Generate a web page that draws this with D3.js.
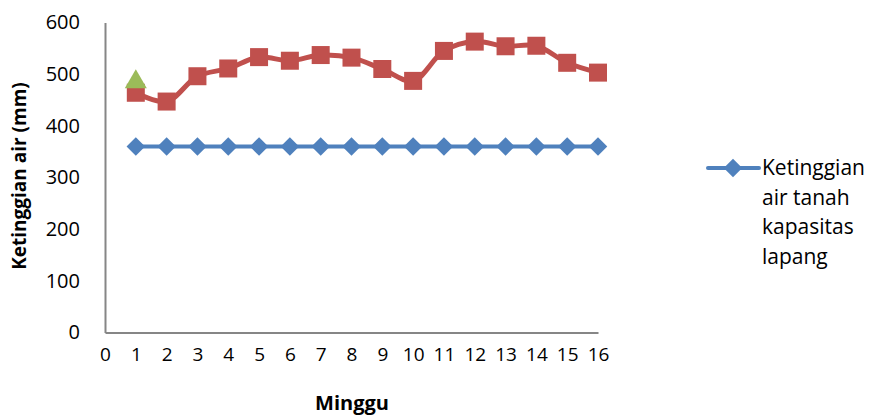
<!DOCTYPE html>
<html>
<head>
<meta charset="utf-8">
<script src="https://cdn.jsdelivr.net/npm/d3@7"></script>
<style>
  html, body { margin: 0; padding: 0; background: #fff; }
  svg { display: block; }
  text { font-family: "Open Sans", "Noto Sans", sans-serif; fill: #000; }
</style>
</head>
<body>
<svg id="chart" width="871" height="416"></svg>
<script>
// Weekly water levels (mm)
const weeks = [1, 2, 3, 4, 5, 6, 7, 8, 9, 10, 11, 12, 13, 14, 15, 16];
const kapasitasLapang = [360, 360, 360, 360, 360, 360, 360, 360, 360, 360, 360, 360, 360, 360, 360, 360];
const ketinggianAir = [464, 447, 496, 511, 533, 526, 537, 532, 510, 487, 545, 563, 554, 555, 522, 503];
const titikAwal = [{ week: 1, value: 485 }];
const xTicks = d3.range(0, 17);
const yTicks = [0, 100, 200, 300, 400, 500, 600];

const svg = d3.select("#chart");
const plot = { left: 105, right: 598, top: 22.5, bottom: 332.5 };

const x = d3.scaleLinear().domain([0, 16]).range([plot.left, plot.right]);
const y = d3.scaleLinear().domain([0, 600]).range([plot.bottom, plot.top]);

const axisColor = "#868686";

// y axis
const yAxis = svg.append("g").attr("transform", `translate(${plot.left},0)`)
  .call(d3.axisLeft(y).tickValues(yTicks).tickSize(0).tickPadding(25));
yAxis.select(".domain").attr("stroke", axisColor).attr("stroke-width", 2);
yAxis.selectAll("text").style("font-size", "20px").attr("font-family", null);

// x axis
const xAxis = svg.append("g").attr("transform", `translate(0,${plot.bottom})`)
  .call(d3.axisBottom(x).tickValues(xTicks).tickSize(0).tickPadding(15));
xAxis.select(".domain").attr("stroke", axisColor).attr("stroke-width", 2);
xAxis.selectAll("text").style("font-size", "19px").attr("font-family", null);

// axis titles
svg.append("text")
  .attr("transform", `translate(26,176) rotate(-90)`)
  .attr("text-anchor", "middle")
  .style("font-size", "19px").style("font-weight", "bold")
  .text("Ketinggian air (mm)");

svg.append("text")
  .attr("x", 352).attr("y", 410)
  .attr("text-anchor", "middle")
  .style("font-size", "20px").style("font-weight", "bold")
  .text("Minggu");

const blue = "#4F81BD", red = "#C0504D", green = "#9BBB59";

// blue series: straight line with diamonds
const lineStraight = d3.line().x((d, i) => x(weeks[i])).y(d => y(d));
svg.append("path").datum(kapasitasLapang)
  .attr("d", lineStraight).attr("fill", "none")
  .attr("stroke", blue).attr("stroke-width", 4).attr("stroke-linejoin", "round");

const diamond = d3.symbol().type(d3.symbolSquare).size(170);
svg.append("g").selectAll("path").data(kapasitasLapang).join("path")
  .attr("d", diamond)
  .attr("transform", (d, i) => `translate(${x(weeks[i])},${y(d)}) rotate(45)`)
  .attr("fill", blue);

// red series: smoothed line with squares
const lineSmooth = d3.line().curve(d3.curveCatmullRom.alpha(0.5))
  .x((d, i) => x(weeks[i])).y(d => y(d));
svg.append("path").datum(ketinggianAir)
  .attr("d", lineSmooth).attr("fill", "none")
  .attr("stroke", red).attr("stroke-width", 5).attr("stroke-linejoin", "round");

const sq = 18;
svg.append("g").selectAll("rect").data(ketinggianAir).join("rect")
  .attr("x", (d, i) => x(weeks[i]) - sq / 2)
  .attr("y", d => y(d) - sq / 2)
  .attr("width", sq).attr("height", sq)
  .attr("fill", red);

// green single point: triangle
const tri = d3.symbol().type(d3.symbolTriangle).size(210);
svg.append("g").selectAll("path").data(titikAwal).join("path")
  .attr("d", tri)
  .attr("transform", d => `translate(${x(d.week)},${y(d.value)})`)
  .attr("fill", green);

// legend
const lg = svg.append("g");
lg.append("line").attr("x1", 708).attr("x2", 759).attr("y1", 168).attr("y2", 168)
  .attr("stroke", blue).attr("stroke-width", 4).attr("stroke-linecap", "round");
lg.append("path").attr("d", diamond)
  .attr("transform", "translate(733,168) rotate(45)").attr("fill", blue);
const legendLines = ["Ketinggian", "air tanah", "kapasitas", "lapang"];
lg.append("text").attr("x", 762).attr("y", 168)
  .style("font-size", "21px")
  .selectAll("tspan").data(legendLines).join("tspan")
  .attr("x", 762).attr("y", (d, i) => 168 + i * 29.5)
  .attr("dy", "0.35em")
  .text(d => d);
</script>
</body>
</html>
